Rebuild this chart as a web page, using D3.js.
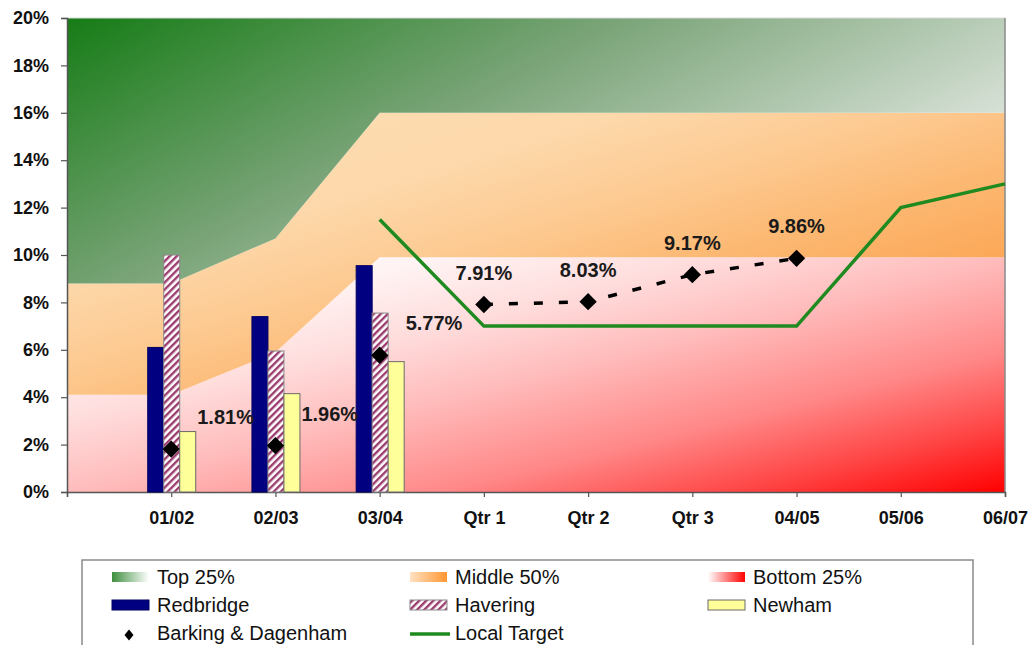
<!DOCTYPE html>
<html>
<head>
<meta charset="utf-8">
<script src="https://cdn.jsdelivr.net/npm/d3@7"></script>
<style>
  html, body { margin: 0; padding: 0; background: #fff; }
  svg { display: block; font-family: "Liberation Sans", Arial, sans-serif; }
</style>
</head>
<body>
<svg id="chart" width="1029" height="645"></svg>
<script>
// ---- data ----
// x positions: a blank lead-in slot, then the periods
const categories = ["", "01/02", "02/03", "03/04", "Qtr 1", "Qtr 2", "Qtr 3", "04/05", "05/06", "06/07"];
const yTicks = [0, 2, 4, 6, 8, 10, 12, 14, 16, 18, 20];

// stacked benchmark bands (percentage points, per category)
const bottom25 = [4.1, 4.1, 5.9, 9.9, 9.9, 9.9, 9.9, 9.9, 9.9, 9.9];
const middle50 = [4.7, 4.7, 4.8, 6.1, 6.1, 6.1, 6.1, 6.1, 6.1, 6.1];
const top25    = [11.2, 11.2, 9.3, 4.0, 4.0, 4.0, 4.0, 4.0, 4.0, 4.0];

// neighbouring boroughs (annual columns)
const barYears  = ["01/02", "02/03", "03/04"];
const redbridge = [6.1, 7.4, 9.55];
const havering  = [10.0, 5.95, 7.55];
const newham    = [2.55, 4.15, 5.5];

// Barking & Dagenham
const barkingCats   = ["01/02", "02/03", "03/04", "Qtr 1", "Qtr 2", "Qtr 3", "04/05"];
const barkingValues = [1.81, 1.96, 5.77, 7.91, 8.03, 9.17, 9.86];
const barkingLinkedFrom = "Qtr 1";   // quarterly points are joined by a dashed line

// local target
const targetCats   = ["03/04", "Qtr 1", "Qtr 2", "Qtr 3", "04/05", "05/06", "06/07"];
const targetValues = [11.5, 7, 7, 7, 7, 12, 13];

// ---- layout ----
const svg = d3.select("#chart");
const plot = { left: 67, right: 1005, top: 18, bottom: 492 };

const x = d3.scalePoint().domain(categories).range([plot.left, plot.right]);
const y = d3.scaleLinear().domain([0, 20]).range([plot.bottom, plot.top]);

const defs = svg.append("defs");

function linGrad(id, x2, y2, stops) {
  const g = defs.append("linearGradient").attr("id", id)
    .attr("x1", 0).attr("y1", 0).attr("x2", x2).attr("y2", y2);
  stops.forEach(([o, c]) => g.append("stop").attr("offset", o).attr("stop-color", c));
}
linGrad("gTop", 0.92, 0.49, [[0, "#167c16"], [0.5, "#7aa478"], [1, "#d6e0d5"]]);
linGrad("gMid", 1, 1, [[0, "#fde0b8"], [0.3, "#fdd8aa"], [0.45, "#fdca92"], [0.6, "#fcb872"],
                      [0.75, "#fca858"], [1, "#fb9a40"]]);
linGrad("gBot", 1, 1, [[0, "#ffffff"], [0.2, "#fff3f3"], [0.35, "#ffdcdc"], [0.5, "#ffbcbc"],
                      [0.7, "#ff8888"], [0.85, "#ff4848"], [1, "#ff0000"]]);
// legend swatches
linGrad("lTop", 1, 0, [[0, "#3f8f3f"], [1, "#ffffff"]]);
linGrad("lMid", 1, 0, [[0, "#ffe2c2"], [1, "#ff9630"]]);
linGrad("lBot", 1, 0, [[0, "#ffffff"], [1, "#ff0000"]]);

const hatch = defs.append("pattern").attr("id", "hatch")
  .attr("patternUnits", "userSpaceOnUse").attr("width", 5).attr("height", 5)
  .attr("patternTransform", "rotate(45)");
hatch.append("rect").attr("width", 5).attr("height", 5).attr("fill", "#ffffff");
hatch.append("rect").attr("width", 2.4).attr("height", 5).attr("fill", "#9b3b6e");

// ---- benchmark bands ----
const bandRows = categories.map((c, i) => ({ cat: c, bottom: bottom25[i], middle: middle50[i], top: top25[i] }));
const stacked = d3.stack().keys(["bottom", "middle", "top"])(bandRows);
const area = d3.area()
  .x(d => x(d.data.cat))
  .y0(d => y(d[0]))
  .y1(d => y(d[1]));
const fills = { bottom: "url(#gBot)", middle: "url(#gMid)", top: "url(#gTop)" };
svg.append("g").selectAll("path").data(stacked).join("path")
  .attr("d", area)
  .attr("fill", s => fills[s.key]);

// plot frame (top and right)
svg.append("line").attr("x1", plot.left).attr("x2", plot.right).attr("y1", plot.top).attr("y2", plot.top)
  .attr("stroke", "#d8d8d8").attr("stroke-width", 1);
svg.append("line").attr("x1", plot.right).attr("x2", plot.right).attr("y1", plot.top).attr("y2", plot.bottom)
  .attr("stroke", "#8a8a8a").attr("stroke-width", 1.5);

// ---- axes ----
const yAxis = svg.append("g").attr("transform", `translate(${plot.left},0)`)
  .call(d3.axisLeft(y).tickValues(yTicks).tickFormat(d => d + "%").tickSize(6).tickPadding(12));
const xAxis = svg.append("g").attr("transform", `translate(0,${plot.bottom})`)
  .call(d3.axisBottom(x).tickSize(5).tickPadding(14));
[yAxis, xAxis].forEach(g => {
  g.selectAll("path.domain").attr("stroke", "#555").attr("stroke-width", 1.5);
  g.selectAll(".tick line").attr("stroke", "#555").attr("stroke-width", 1.2);
  g.selectAll("text").attr("font-family", "'Liberation Sans', Arial, sans-serif")
    .attr("font-weight", "bold").attr("font-size", 18).attr("fill", "#111");
});

// ---- columns ----
const seriesNames = ["Redbridge", "Havering", "Newham"];
const seriesVals = { Redbridge: redbridge, Havering: havering, Newham: newham };
const seriesStyle = {
  Redbridge: { fill: "#000080", stroke: "#000060" },
  Havering:  { fill: "url(#hatch)", stroke: "#8a8a8a" },
  Newham:    { fill: "#ffff99", stroke: "#6a6a6a" }
};
const inner = d3.scaleBand().domain(seriesNames).range([-24, 24]).padding(0);
const barData = [];
barYears.forEach((yr, i) => seriesNames.forEach(s => barData.push({ yr, s, v: seriesVals[s][i] })));
svg.append("g").selectAll("rect").data(barData).join("rect")
  .attr("x", d => x(d.yr) + inner(d.s) + 0.5)
  .attr("y", d => y(d.v))
  .attr("width", inner.bandwidth())
  .attr("height", d => y(0) - y(d.v))
  .attr("fill", d => seriesStyle[d.s].fill)
  .attr("stroke", d => seriesStyle[d.s].stroke)
  .attr("stroke-width", 1);

// ---- local target ----
const targetLine = d3.line().x(d => x(d[0])).y(d => y(d[1]));
svg.append("path")
  .attr("d", targetLine(targetCats.map((c, i) => [c, targetValues[i]])))
  .attr("fill", "none").attr("stroke", "#1f8a1f").attr("stroke-width", 3.5)
  .attr("stroke-linejoin", "miter");

// ---- Barking & Dagenham ----
const bPts = barkingCats.map((c, i) => ({ c, v: barkingValues[i], i }));
const linkedStart = barkingCats.indexOf(barkingLinkedFrom);
svg.append("path")
  .attr("d", d3.line().x(d => x(d.c)).y(d => y(d.v))(bPts.slice(linkedStart)))
  .attr("fill", "none").attr("stroke", "#000").attr("stroke-width", 3.5)
  .attr("stroke-dasharray", "9,16");
const diamond = d3.symbol().type(d3.symbolSquare).size(150);
svg.append("g").selectAll("path").data(bPts).join("path")
  .attr("d", diamond)
  .attr("transform", d => `translate(${x(d.c)},${y(d.v)}) rotate(45)`)
  .attr("fill", "#000");

svg.append("g").selectAll("text").data(bPts).join("text")
  .attr("x", d => d.i < linkedStart ? x(d.c) + 26 : x(d.c))
  .attr("y", d => y(d.v) - 25)
  .attr("text-anchor", d => d.i < linkedStart ? "start" : "middle")
  .attr("font-weight", "bold").attr("font-size", 20).attr("fill", "#1a1a1a")
  .text(d => d.v.toFixed(2) + "%");

// ---- legend ----
const legend = svg.append("g");
legend.append("rect").attr("x", 82).attr("y", 560).attr("width", 891).attr("height", 120)
  .attr("fill", "#fff").attr("stroke", "#8a8a8a").attr("stroke-width", 1.5);

const legendItems = [
  { name: "Top 25%", kind: "rect", fill: "url(#lTop)", stroke: "none" },
  { name: "Middle 50%", kind: "rect", fill: "url(#lMid)", stroke: "none" },
  { name: "Bottom 25%", kind: "rect", fill: "url(#lBot)", stroke: "none" },
  { name: "Redbridge", kind: "rect", fill: "#000080", stroke: "#000060" },
  { name: "Havering", kind: "rect", fill: "url(#hatch)", stroke: "#8a8a8a" },
  { name: "Newham", kind: "rect", fill: "#ffff99", stroke: "#6a6a6a" },
  { name: "Barking & Dagenham", kind: "diamond" },
  { name: "Local Target", kind: "line" }
];
const colX = [112, 410, 708];
const rowY = [584, 612, 640];
legendItems.forEach((it, k) => {
  const cx = colX[k % 3], by = rowY[Math.floor(k / 3)];
  const g = legend.append("g");
  if (it.kind === "rect") {
    g.append("rect").attr("x", cx).attr("y", by - 12).attr("width", 37).attr("height", 10)
      .attr("fill", it.fill).attr("stroke", it.stroke).attr("stroke-width", 1);
  } else if (it.kind === "diamond") {
    const mx = cx + 17, my = by - 5;
    g.append("path").attr("d", `M${mx},${my - 5.5}L${mx + 4.5},${my}L${mx},${my + 5.5}L${mx - 4.5},${my}Z`)
      .attr("fill", "#000");
  } else {
    g.append("line").attr("x1", cx).attr("x2", cx + 40).attr("y1", by - 6).attr("y2", by - 6)
      .attr("stroke", "#1f8a1f").attr("stroke-width", 3.5);
  }
  g.append("text").attr("x", cx + 45).attr("y", by)
    .attr("font-size", 20).attr("fill", "#111").text(it.name);
});
</script>
</body>
</html>
